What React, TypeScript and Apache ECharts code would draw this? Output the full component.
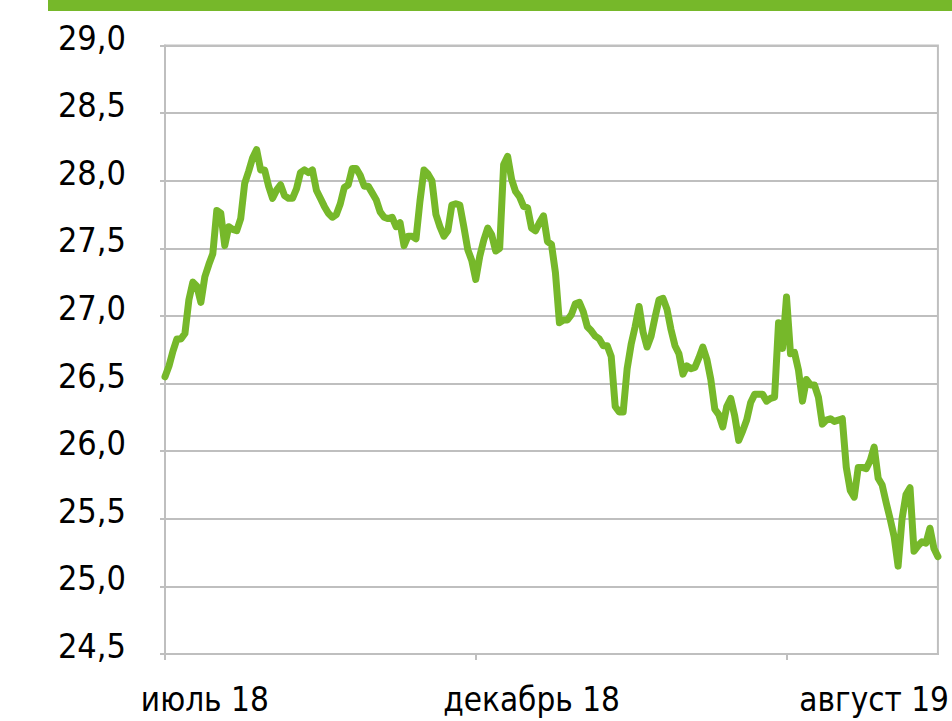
import React, { useEffect, useRef } from "react";
import * as echarts from "echarts";

const yMin = 24.5;
const yMax = 29.0;
const yStep = 0.5;

const values: number[] = [
  26.55, 26.63, 26.74, 26.83, 26.83, 26.87, 27.12, 27.25, 27.22, 27.10,
  27.29, 27.38, 27.46, 27.78, 27.76, 27.52, 27.66, 27.64, 27.63, 27.72,
  27.98, 28.07, 28.17, 28.23, 28.08, 28.08, 27.96, 27.87, 27.93, 27.97,
  27.89, 27.87, 27.87, 27.94, 28.06, 28.08, 28.06, 28.08, 27.93, 27.87,
  27.81, 27.76, 27.73, 27.75, 27.83, 27.95, 27.97, 28.09, 28.09, 28.04,
  27.96, 27.96, 27.91, 27.86, 27.77, 27.73, 27.72, 27.73, 27.66, 27.69,
  27.52, 27.59, 27.59, 27.57, 27.85, 28.08, 28.05, 28.0, 27.75, 27.66,
  27.59, 27.63, 27.82, 27.83, 27.82, 27.66, 27.49, 27.41, 27.27, 27.44,
  27.56, 27.65, 27.60, 27.48, 27.50, 28.12, 28.18, 28.01, 27.92, 27.88,
  27.81, 27.80, 27.65, 27.63, 27.69, 27.74, 27.55, 27.53, 27.32, 26.95,
  26.97, 26.97, 27.01, 27.09, 27.10, 27.03, 26.92, 26.89, 26.85, 26.83,
  26.78, 26.78, 26.70, 26.33, 26.29, 26.29, 26.61, 26.79, 26.92, 27.07,
  26.88, 26.77, 26.85, 26.99, 27.12, 27.13, 27.05, 26.90, 26.78, 26.72,
  26.57, 26.63, 26.61, 26.62, 26.69, 26.77, 26.68, 26.53, 26.31, 26.27,
  26.18, 26.33, 26.39, 26.26, 26.08, 26.15, 26.23, 26.36, 26.42, 26.42,
  26.42, 26.37, 26.39, 26.40, 26.95, 26.76, 27.14, 26.72, 26.73, 26.60,
  26.37, 26.53, 26.49, 26.49, 26.40, 26.20, 26.23, 26.24, 26.22, 26.23,
  26.24, 25.88, 25.71, 25.66, 25.88, 25.88, 25.87, 25.93, 26.03, 25.80,
  25.75, 25.62, 25.50, 25.37, 25.15, 25.50, 25.68, 25.73, 25.26, 25.30,
  25.33, 25.32, 25.43, 25.28, 25.22,
];

const categories: string[] = values.map((_, i) => String(i));

const xLabelTexts: string[] = ["июль 18", "декабрь 18", "август 19"];
const xLabelIndices: number[] = [10, 92, 178];
const xTickIndices: number[] = [0, 78, 156];

const FONT = "'Liberation Sans Narrow', 'DejaVu Sans Condensed', 'DejaVu Sans', sans-serif";
const GREEN = "#76b82a";
const GRID_GRAY = "#bfbfbf";

export default function App() {
  const ref = useRef<HTMLDivElement>(null);

  useEffect(() => {
    if (!ref.current) return;
    const chart = echarts.init(ref.current, undefined, { renderer: "svg" });
    chart.setOption({
      animation: false,
      backgroundColor: "#ffffff",
      grid: {
        left: 165,
        right: 10,
        top: 45.5,
        bottom: 67,
        show: true,
        borderColor: GRID_GRAY,
        borderWidth: 2,
        containLabel: false,
      },
      graphic: [
        {
          type: "rect",
          left: 48,
          top: 0,
          shape: { width: 904, height: 11 },
          style: { fill: GREEN },
        },
      ],
      xAxis: {
        type: "category",
        data: categories,
        boundaryGap: false,
        axisLine: { show: true, lineStyle: { color: GRID_GRAY, width: 2 } },
        axisTick: {
          show: true,
          length: 6,
          interval: (index: number) => xTickIndices.includes(index),
          lineStyle: { color: GRID_GRAY, width: 2 },
        },
        axisLabel: {
          show: true,
          interval: (index: number) => xLabelIndices.includes(index),
          formatter: (_v: string, index: number) => {
            const k = xLabelIndices.indexOf(index);
            return k >= 0 ? xLabelTexts[k] : "";
          },
          margin: 32,
          lineHeight: 26,
          fontFamily: FONT,
          fontSize: 33,
          color: "#000000",
        },
        splitLine: { show: false },
      },
      yAxis: {
        type: "value",
        min: yMin,
        max: yMax,
        interval: yStep,
        axisLine: { show: true, lineStyle: { color: GRID_GRAY, width: 2 } },
        axisTick: { show: true, length: 5, lineStyle: { color: GRID_GRAY, width: 2 } },
        axisLabel: {
          margin: 39,
          fontFamily: FONT,
          fontSize: 34,
          color: "#000000",
          verticalAlign: "bottom",
          lineHeight: 16,
          formatter: (v: number) => v.toFixed(1).replace(".", ","),
        },
        splitLine: { show: true, lineStyle: { color: GRID_GRAY, width: 2 } },
      },
      series: [
        {
          type: "line",
          data: values,
          showSymbol: false,
          symbol: "none",
          smooth: false,
          lineStyle: { color: GREEN, width: 7, cap: "round", join: "round" },
        },
      ],
    });
    return () => chart.dispose();
  }, []);

  return (
    <div
      ref={ref}
      style={{ position: "fixed", left: 0, top: 0, width: 952, height: 721 }}
    />
  );
}
